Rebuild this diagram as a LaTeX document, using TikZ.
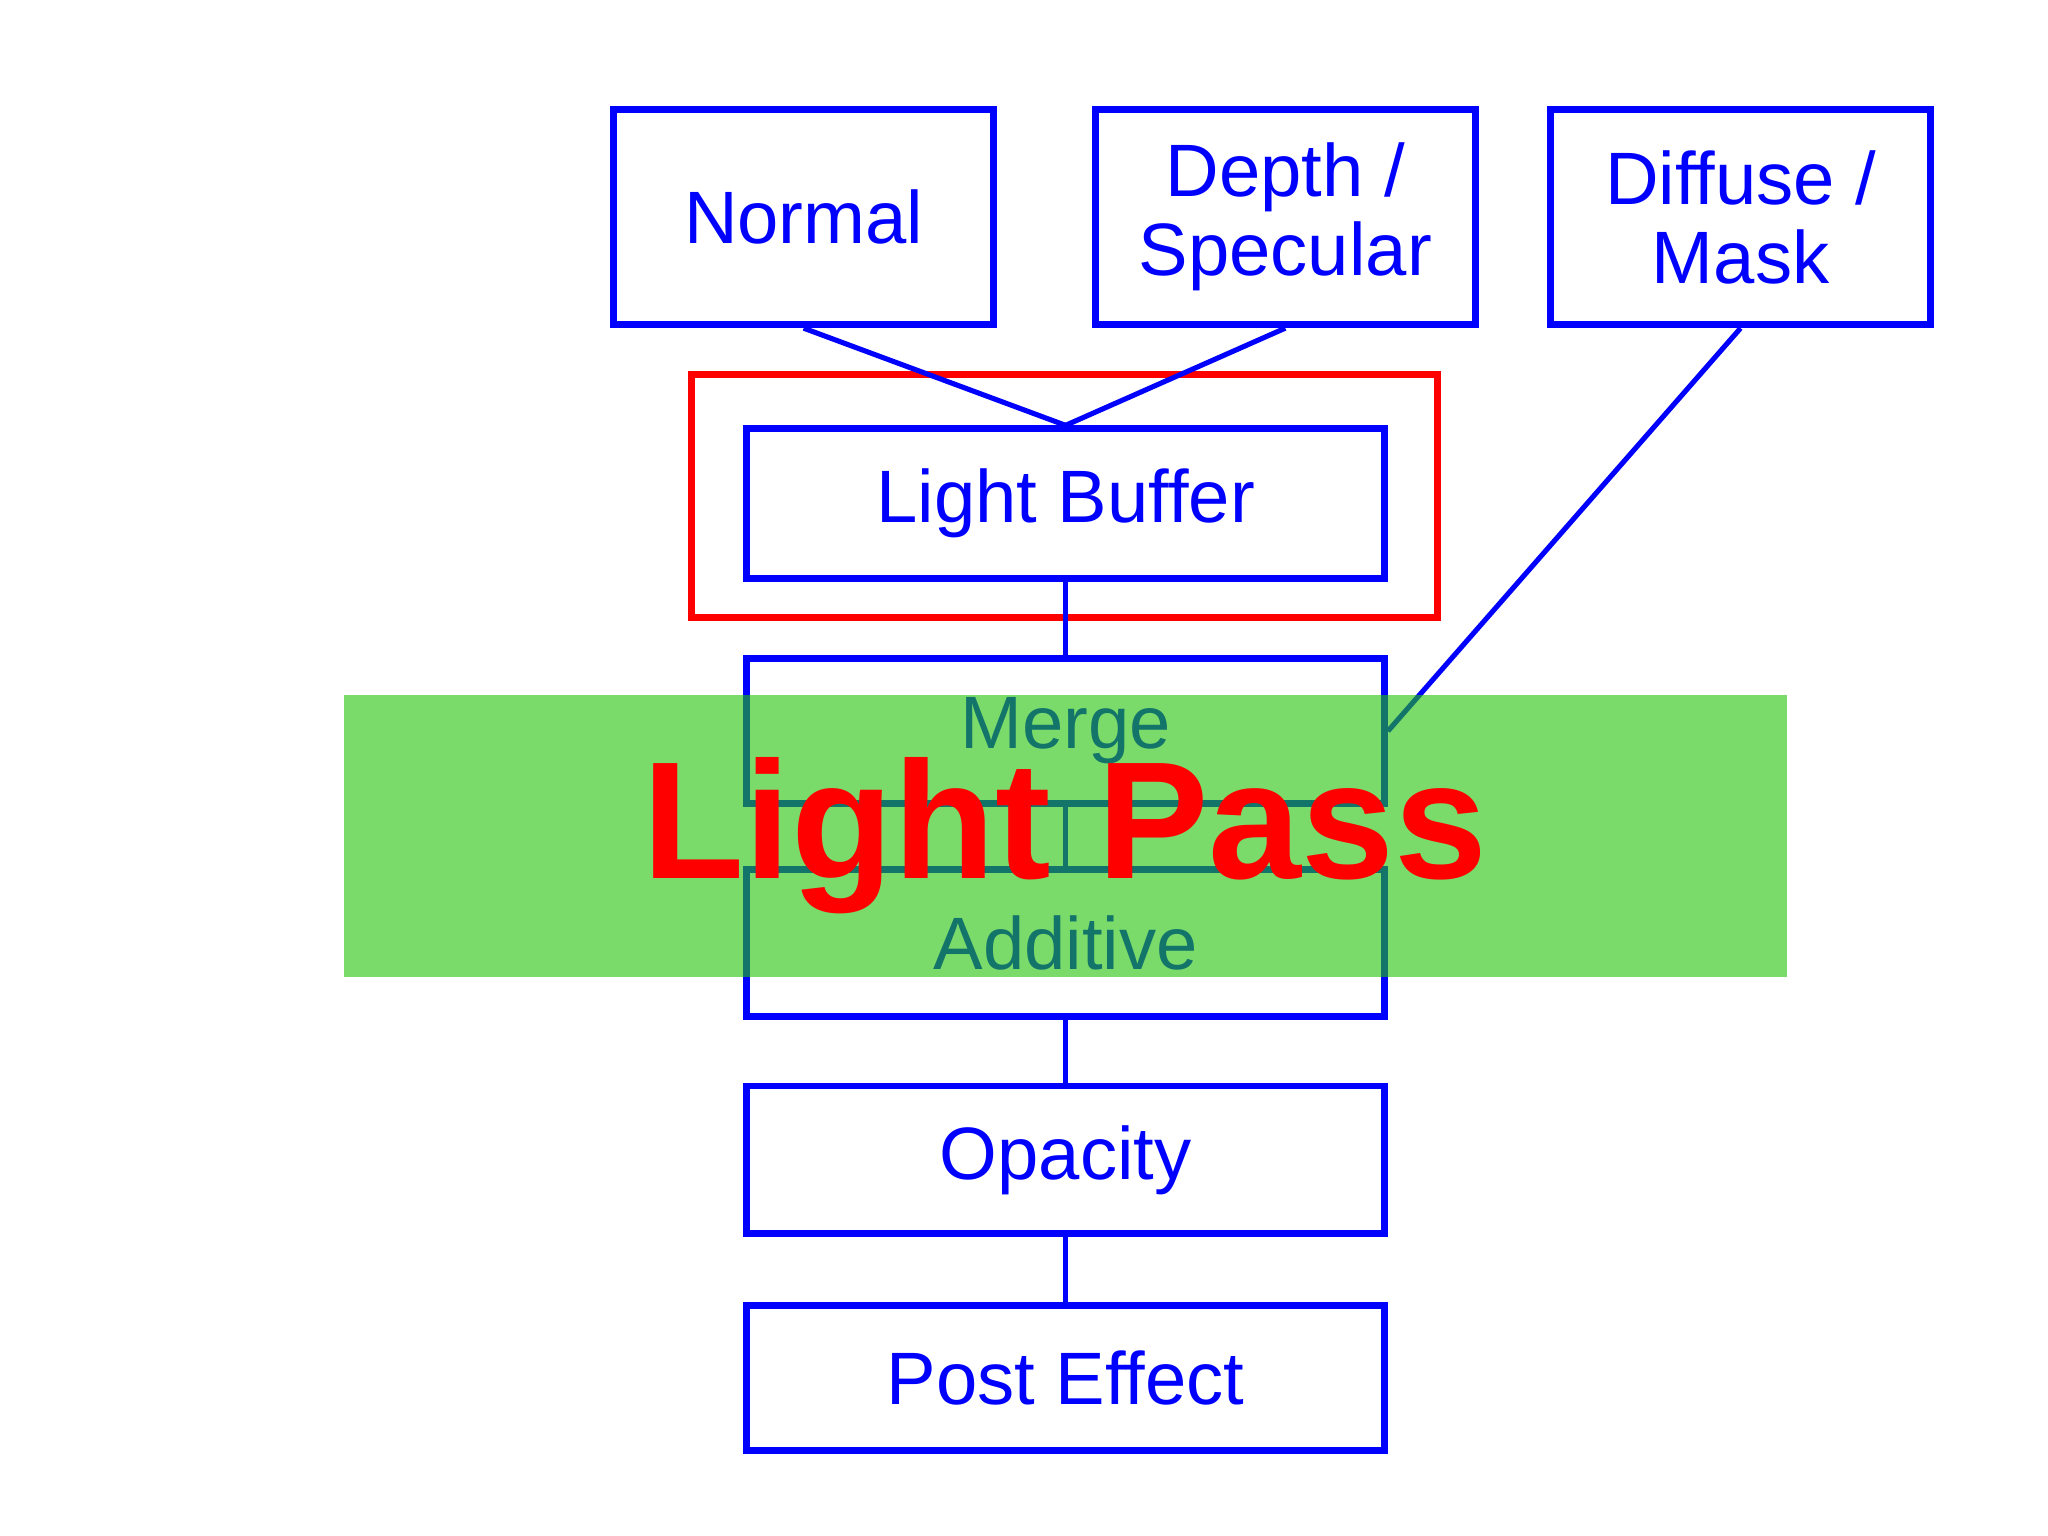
\documentclass[tikz,border=0pt]{standalone}
\usepackage{fontspec}
\setmainfont{Liberation Sans}
\begin{document}
\begin{tikzpicture}[x=0.01cm,y=-0.01cm,
  bx/.style={draw=blue,line width=1.5pt,text=blue,font=\fontsize{16}{17}\selectfont,align=center,inner sep=0pt},
  ln/.style={draw=blue,line width=1.1pt}]
\useasboundingbox (0,0) rectangle (1552,1164);
\node[bx,minimum width=2.88cm,minimum height=1.63cm] (n) at (609,164.5) {Normal};
\node[bx,minimum width=2.88cm,minimum height=1.63cm] (d) at (974,164.5) {Depth /\\Specular};
\node[bx,minimum width=2.88cm,minimum height=1.63cm] (f) at (1319,164.5) {Diffuse /\\Mask};
\draw[red,line width=1.5pt] (524,284) rectangle (1089,468);
\node[bx,minimum width=4.83cm,minimum height=1.13cm] (lb) at (807.5,381.5) {Light Buffer};
\node[bx,minimum width=4.83cm,minimum height=1.10cm] (m) at (807.5,554) {Merge};
\node[bx,minimum width=4.83cm,minimum height=1.11cm] (a) at (807.5,714.5) {Additive};
\node[bx,minimum width=4.83cm,minimum height=1.12cm] (o) at (807.5,879) {Opacity};
\node[bx,minimum width=4.83cm,minimum height=1.10cm] (p) at (807.5,1044) {Post Effect};
\draw[ln] (n.south) -- (lb.north);
\draw[ln] (d.south) -- (lb.north);
\draw[ln] (f.south) -- (m.east);
\draw[ln] (lb.south) -- (m.north);
\draw[ln] (m.south) -- (a.north);
\draw[ln] (a.south) -- (o.north);
\draw[ln] (o.south) -- (p.north);
\fill[fill={rgb,255:red,33;green,195;blue,7},fill opacity=0.6] (261,527) rectangle (1354,740);
\node[text=red,font=\fontsize{36}{40}\selectfont\bfseries,inner sep=0pt] (lp) at (807,633) {Light Pass};
\end{tikzpicture}
\end{document}
